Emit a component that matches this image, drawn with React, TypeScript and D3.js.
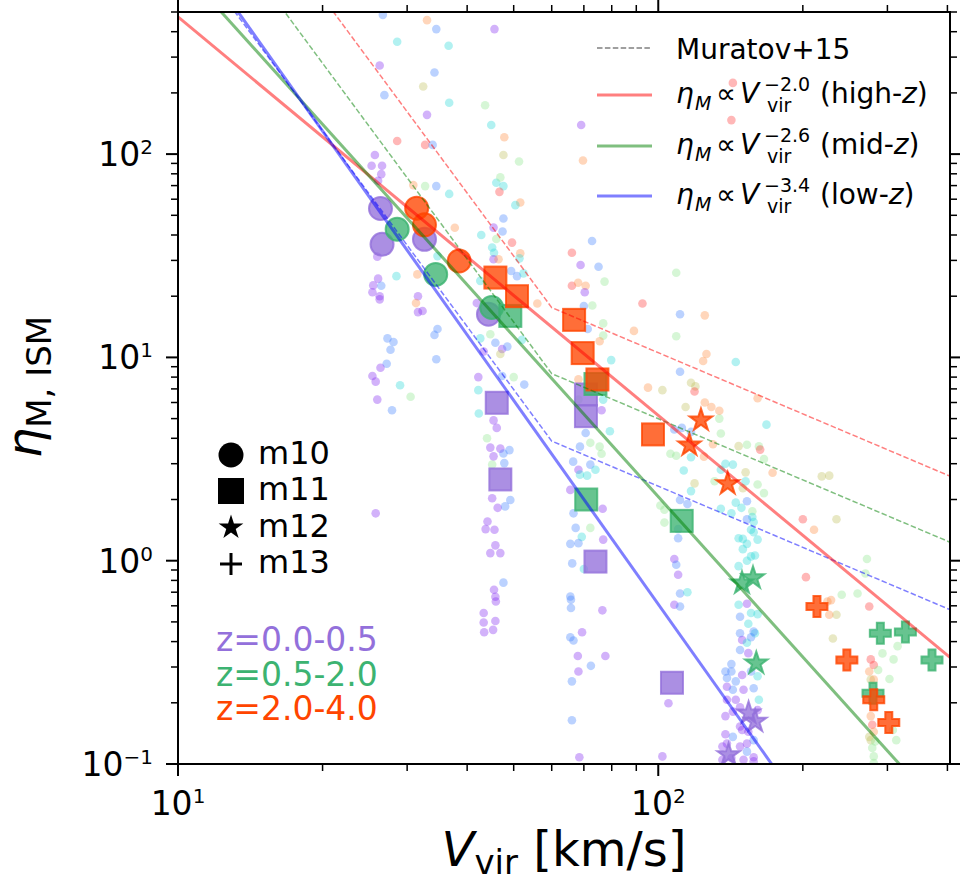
import React from 'react';
import * as d3 from 'd3';

const FONT = "'DejaVu Sans', sans-serif";

// ---- axis ranges and ticks ----
const X_MIN = 10, X_MAX = 405;
const Y_MIN = 0.1, Y_MAX = 500;
const xMajorTicks = [10, 100];
const xMajorExp = ['1', '2'];
const xMinorTicks = [20, 30, 40, 50, 60, 70, 80, 90, 200, 300, 400];
const yMajorTicks = [0.1, 1, 10, 100];
const yMajorExp = ['\u22121', '0', '1', '2'];
const yMinorTicks = [0.2, 0.3, 0.4, 0.5, 0.6, 0.7, 0.8, 0.9, 2, 3, 4, 5, 6, 7, 8, 9, 20, 30, 40, 50, 60, 70, 80, 90, 200, 300, 400, 500];

// ---- redshift bins ----
const zBinLabels = ['z=0.0-0.5', 'z=0.5-2.0', 'z=2.0-4.0'];
const zBinColors = ['#9370DB', '#3CB371', '#FF4500'];

// ---- power-law fits ----
const fitExpLabels = ['\u22122.0', '\u22122.6', '\u22123.4'];
const fitRegimes = ['high', 'mid', 'low'];
const fitSlopes = [-1.96, -2.62, -3.33];
const fitEtaAt10 = [473, 861, 1306];
const fitColors = ['#ff0000', '#008000', '#0000ff'];

// ---- Muratov+15 ----
const muratovZ = [3.0, 1.25, 0.25];
const muratovNorm = 2.9;
const muratovZExp = 1.3;
const muratovBreakV = 60;
const muratovSlopeLow = -3.2;
const muratovSlopeHigh = -1.0;

// ---- big markers ----
const m10V = [26.4, 26.6, 32.6, 44.3, 28.6, 34.4, 45.0, 31.4, 32.6, 38.5];
const m10Eta = [54.0, 36.0, 38.1, 16.3, 42.7, 25.6, 17.6, 54.2, 44.9, 29.8];
const m10Z = [0, 0, 0, 0, 1, 1, 1, 2, 2, 2];

const m11V = [70.7, 70.7, 46.1, 46.9, 74.0, 106.8, 49.2, 74.0, 70.8, 111.9, 45.8, 50.8, 66.8, 69.6, 74.7, 97.5];
const m11Eta = [6.57, 5.14, 5.98, 2.51, 0.99, 0.251, 16.0, 7.4, 2.0, 1.57, 24.7, 20.0, 15.3, 10.5, 7.79, 4.18];
const m11Z = [0, 0, 0, 0, 0, 0, 1, 1, 1, 1, 2, 2, 2, 2, 2, 2];

const m12V = [154.2, 159.2, 140.1, 157.5, 149.4, 160, 122.7, 116.1, 139.5];
const m12Eta = [0.178, 0.162, 0.111, 0.822, 0.776, 0.313, 4.91, 3.70, 2.39];
const m12Z = [0, 0, 0, 1, 1, 1, 2, 2, 2];

const m13V = [290, 327, 371.5, 280, 214, 247, 281, 302];
const m13Eta = [0.440, 0.446, 0.325, 0.223, 0.596, 0.325, 0.207, 0.160];
const m13Z = [1, 1, 1, 1, 2, 2, 2, 2];

const markerLegend = ['m10', 'm11', 'm12', 'm13'];

// ---- faint snapshot dots [Vvir, eta, colour code] ----
const dotColors: Record<string, string> = {
  p: '#822af2', b: '#4382ff', c: '#2ad9d9', g: '#8ee68e', y: '#c0c05c', o: '#ff8e43', r: '#ff3737',
};
const dots: [number, number, string][] = [
  [26.7, 484, 'b'], [28.6, 357, 'c'], [33.0, 456, 'o'], [34.5, 412, 'b'], [36.6, 341, 'c'], [45.6, 412, 'p'],
  [26.3, 273, 'p'], [34.2, 252, 'b'], [32.4, 215, 'y'], [26.9, 195, 'b'], [36.7, 179, 'c'], [43.6, 174, 'g'],
  [33.0, 156, 'p'], [44.9, 139, 'c'], [47.8, 121, 'o'], [69.1, 139, 'p'], [25.7, 99, 'p'], [28.6, 116, 'r'],
  [32.7, 111, 'r'], [33.9, 111, 'b'], [47.6, 99, 'y'], [51.3, 92, 'g'], [69.7, 93, 'o'], [25.3, 87.6, 'p'],
  [26.6, 87.6, 'p'], [26.5, 79.7, 'p'], [26.1, 73.9, 'p'], [30.9, 70.4, 'o'], [32.7, 69.6, 'g'], [34.5, 69.6, 'b'],
  [36.7, 63.7, 'c'], [46.0, 72.3, 'c'], [46.9, 76.8, 'g'], [47.6, 69.6, 'c'], [46.7, 65.2, 'r'], [51.6, 57.8, 'o'],
  [50.4, 56.1, 'c'], [47.6, 48.2, 'b'], [45.4, 43.5, 'p'], [47.4, 41.6, 'b'], [37.7, 43.4, 'o'], [42.8, 40, 'c'],
  [46.0, 38.2, 'g'], [45.1, 34.7, 'c'], [45.5, 32.7, 'c'], [49.6, 36.7, 'r'], [51.6, 32.5, 'o'], [51.4, 30.7, 'c'],
  [45.4, 30.4, 'p'], [46.5, 30.4, 'o'], [72.8, 37.4, 'b'], [66.1, 32.7, 'r'], [68.9, 28.5, 'p'], [75.1, 27.9, 'b'],
  [66.1, 22.5, 'r'], [68.1, 23.3, 'o'], [70.6, 22.5, 'o'], [77.3, 23.6, 'g'], [70.3, 20.9, 'p'], [28.5, 25.1, 'c'],
  [31.5, 25.6, 'o'], [34.7, 31.5, 'c'], [26.0, 31.3, 'p'], [26.1, 24.4, 'p'], [25.5, 22.6, 'p'], [26.5, 22.5, 'b'],
  [25.4, 20.9, 'p'], [26.3, 20.0, 'p'], [31.6, 20.0, 'p'], [42.6, 23.8, 'c'], [49.4, 26.6, 'b'], [50.8, 25.1, 'b'],
  [52.4, 25.9, 'c'],
  [143, 224, 'r'], [142, 147, 'r'], [109, 26.1, 'g'],
  [26.3, 19.3, 'p'], [31.3, 18.5, 'o'], [31.6, 16.7, 'p'], [32.3, 16.9, 'p'], [41.9, 18.5, 'p'], [34.7, 13.8, 'b'],
  [34.2, 12.9, 'b'], [34.5, 9.8, 'b'], [27.3, 12.4, 'b'], [28.1, 11.9, 'b'], [27.7, 10.9, 'b'], [27.2, 9.3, 'b'],
  [26.4, 8.9, 'p'], [25.4, 8.1, 'p'], [25.8, 7.6, 'p'], [29.0, 7.3, 'c'], [30.5, 6.4, 'g'], [26.0, 6.2, 'p'],
  [27.9, 5.5, 'b'], [25.8, 1.71, 'p'],
  [42.6, 12.4, 'c'], [44.7, 13.0, 'g'], [45.8, 11.8, 'b'], [47.3, 11.0, 'p'], [48.5, 11.3, 'b'], [43.3, 10.7, 'p'],
  [46.9, 10.4, 'y'], [52.0, 12.2, 'c'], [42.2, 8.0, 'p'], [42.2, 6.9, 'c'], [42.3, 5.3, 'c'], [47.3, 8.1, 'b'],
  [50.0, 8.0, 'g'], [52.6, 7.35, 'b'], [45.4, 4.9, 'p'], [46.1, 4.5, 'p'], [44.0, 4.0, 'g'], [44.7, 3.6, 'p'],
  [46.9, 3.56, 'p'], [49.0, 3.5, 'b'], [45.4, 3.26, 'p'], [47.6, 3.37, 'b'], [45.1, 2.97, 'g'], [47.8, 3.02, 'b'],
  [45.1, 2.03, 'p'], [49.2, 1.99, 'b'], [46.3, 1.82, 'p'], [48.0, 1.85, 'b'], [44.1, 1.56, 'p'], [43.7, 1.43, 'p'],
  [45.6, 1.42, 'p'], [45.8, 1.19, 'p'], [44.7, 1.09, 'p'], [46.9, 1.09, 'p'], [47.6, 0.78, 'b'], [45.5, 0.72, 'p'],
  [45.8, 0.665, 'p'],
  [70.0, 17.9, 'b'], [72.9, 18.0, 'g'], [71.3, 13.8, 'b'], [76.8, 14.7, 'g'], [76.8, 12.8, 'g'], [79.8, 9.7, 'c'],
  [75.5, 12.0, 'o'], [68.2, 7.8, 'o'], [68.2, 6.2, 'g'], [76.8, 6.2, 'c'], [76.2, 5.5, 'p'], [79.3, 4.33, 'c'],
  [70.6, 4.25, 'b'], [72.2, 3.8, 'g'], [68.7, 3.64, 'b'], [75.5, 3.64, 'g'], [76.2, 3.36, 'g'], [72.2, 2.97, 'b'],
  [74.0, 2.8, 'c'], [66.5, 3.07, 'b'], [68.2, 2.8, 'p'], [68.7, 2.65, 'c'], [71.1, 2.62, 'c'], [65.6, 2.23, 'p'],
  [66.6, 1.71, 'b'], [72.2, 1.45, 'g'], [67.3, 1.45, 'b'], [69.3, 1.31, 'c'], [68.2, 1.22, 'b'], [65.6, 1.21, 'b'],
  [66.2, 0.97, 'b'], [70.0, 0.91, 'c'], [76.6, 1.8, 'p'], [76.8, 1.27, 'p'], [65.6, 0.667, 'b'], [56.0, 18.4, 'o'],
  [89.0, 13.5, 'o'],
  [92.7, 18.4, 'r'], [111, 16.3, 'b'], [125, 16.1, 'o'], [109, 12.7, 'g'], [124, 9.6, 'o'], [126, 10.4, 'o'],
  [145, 9.5, 'c'], [111, 8.5, 'b'], [95.2, 7.1, 'o'], [102, 6.9, 'y'], [117, 7.5, 'y'], [119.5, 7.2, 'y'],
  [119, 6.8, 'r'], [114, 5.7, 'y'], [125, 6.0, 'o'], [129, 5.7, 'o'], [134, 5.46, 'o'], [161, 6.3, 'o'],
  [168, 4.67, 'c'], [134, 5.0, 'g'], [108, 4.42, 'b'], [112, 4.5, 'b'], [135, 4.22, 'g'], [130, 3.74, 'o'],
  [147, 3.66, 'y'], [153, 3.72, 'g'], [162, 3.65, 'g'], [163, 3.52, 'r'], [106, 3.36, 'g'], [109, 3.28, 'g'],
  [117, 3.23, 'c'], [124.5, 3.25, 'o'], [166, 3.16, 'g'], [138, 3.0, 'c'], [143, 2.97, 'c'], [113, 2.78, 'c'],
  [135, 2.8, 'c'], [152, 2.72, 'y'], [173, 2.71, 'o'], [131, 2.46, 'g'], [152, 2.46, 'c'], [150, 2.27, 'y'],
  [119, 2.4, 'y'], [161, 2.37, 'g'], [166, 2.15, 'g'], [117, 2.2, 'c'], [101, 1.87, 'g'], [103, 1.78, 'g'],
  [111, 1.99, 'b'], [115, 1.9, 'b'], [135, 1.8, 'c'], [145, 1.93, 'c'], [149, 1.82, 'c'], [153, 1.96, 'b'],
  [157, 1.75, 'g'], [142, 1.71, 'c'], [103, 1.54, 'g'], [157, 1.64, 'c'], [158, 1.55, 'c'], [153, 1.6, 'b'],
  [156, 1.42, 'c'], [158, 1.38, 'c'], [147, 1.29, 'c'], [150, 1.28, 'c'], [161, 1.27, 'c'], [153, 1.21, 'c'],
  [150, 1.14, 'c'], [156, 1.05, 'c'], [159, 1.06, 'c'], [153, 1.0, 'c'], [147, 0.94, 'c'], [110, 1.29, 'b'],
  [110, 1.43, 'b'], [108, 1.02, 'p'], [109, 0.955, 'b'], [110, 0.853, 'p'], [111, 0.69, 'b'], [115, 0.70, 'c'],
  [200, 1.6, 'r'], [211, 1.42, 'o'], [219, 2.6, 'y'], [227, 2.62, 'y'], [235, 1.6, 'y'], [272, 1.02, 'g'],
  [270, 0.865, 'g'], [203, 0.83, 'r'], [241, 0.68, 'g'], [260, 0.69, 'g'], [229, 0.64, 'o'], [117, 4.3, 'b'],
  [108, 0.607, 'p'], [111, 0.595, 'b'], [105, 0.199, 'p'], [102, 0.109, 'p'],
  [147, 0.607, 'c'], [153, 0.614, 'p'], [156, 0.553, 'c'], [161, 0.546, 'c'], [148, 0.53, 'b'], [154, 0.49, 'c'],
  [159, 0.44, 'c'], [158, 0.448, 'b'], [148, 0.44, 'b'], [149.5, 0.407, 'p'], [153, 0.395, 'c'], [156, 0.42, 'b'],
  [148, 0.364, 'b'], [154, 0.351, 'p'], [142, 0.31, 'b'], [138, 0.285, 'b'], [142, 0.285, 'b'], [139, 0.265, 'b'],
  [145, 0.255, 'b'], [149.5, 0.274, 'p'], [156, 0.285, 'b'], [161, 0.27, 'c'], [139, 0.24, 'p'], [143, 0.232, 'b'],
  [150.5, 0.232, 'p'], [158, 0.236, 'b'], [162, 0.207, 'c'], [139, 0.207, 'p'], [145, 0.207, 'p'], [138, 0.172, 'p'],
  [143, 0.181, 'p'], [148, 0.19, 'p'], [161, 0.184, 'p'], [149.5, 0.147, 'p'], [148, 0.153, 'p'], [138, 0.14, 'p'],
  [143, 0.136, 'b'], [154, 0.144, 'p'], [158, 0.131, 'b'], [136, 0.122, 'p'], [139, 0.126, 'p'], [148, 0.122, 'p'],
  [153, 0.126, 'p'], [153, 0.115, 'b'], [158, 0.108, 'p'], [136, 0.105, 'p'], [142, 0.107, 'p'], [150.5, 0.105, 'p'],
  [158, 0.103, 'p'],
  [225, 0.63, 'o'], [235, 0.542, 'y'], [227, 0.542, 'o'], [231, 0.414, 'y'], [275, 0.595, 'r'], [277, 0.327, 'r'],
  [281, 0.307, 'r'], [275, 0.285, 'o'], [277, 0.26, 'y'], [281, 0.26, 'o'], [287, 0.29, 'g'], [293, 0.35, 'g'],
  [303, 0.262, 'g'], [309, 0.327, 'g'], [315, 0.38, 'g'], [277, 0.172, 'o'], [279, 0.156, 'r'], [281, 0.144, 'o'],
  [275, 0.136, 'y'], [277, 0.131, 'y'], [283, 0.129, 'g'], [308, 0.147, 'g'], [313, 0.131, 'g'], [279, 0.12, 'g'],
  [281, 0.109, 'g'], [281, 0.101, 'g'],
  [43.3, 0.553, 'p'], [43.3, 0.497, 'p'], [43.4, 0.445, 'p'], [45.3, 0.457, 'p'], [45.8, 0.505, 'p'], [45.9, 0.63, 'p'],
  [65.8, 0.642, 'b'], [65.8, 0.585, 'b'], [76.5, 0.57, 'p'], [69.4, 0.445, 'p'], [65.6, 0.42, 'b'], [66.6, 0.405, 'b'],
  [68.0, 0.34, 'p'], [77.6, 0.34, 'p'], [68.2, 0.285, 'p'], [72.4, 0.304, 'b'], [66.1, 0.255, 'b'], [66.1, 0.164, 'b'],
  [68.5, 0.108, 'p'],
];

type Shape = 'circle' | 'square' | 'star' | 'plus';

function Marker({ shape, cx, cy, color, legend }: { shape: Shape; cx: number; cy: number; color: string; legend?: boolean }) {
  const style = legend
    ? { fill: color, stroke: 'none' }
    : { fill: color, fillOpacity: 0.78, stroke: color, strokeOpacity: 0.8, strokeWidth: 2 };
  if (shape === 'circle') return <circle cx={cx} cy={cy} r={legend ? 12.5 : 11.5} {...style} />;
  if (shape === 'square') {
    const s = legend ? 26 : 22;
    return <rect x={cx - s / 2} y={cy - s / 2} width={s} height={s} {...style} />;
  }
  if (shape === 'star') {
    const R = legend ? 13 : 11.8;
    const d = d3.symbol().type(d3.symbolStar).size((R * R) / 0.8908130915)();
    return <path transform={`translate(${cx},${cy})`} d={d || ''} {...style} />;
  }
  if (legend) {
    return (
      <g stroke={color} strokeWidth={3}>
        <line x1={cx - 11} x2={cx + 11} y1={cy} y2={cy} />
        <line x1={cx} x2={cx} y1={cy - 11} y2={cy + 11} />
      </g>
    );
  }
  const d = d3.symbol().type(d3.symbolCross).size(245)();
  return <path transform={`translate(${cx},${cy})`} d={d || ''} {...style} />;
}

export default function App() {
  const left = 178, right = 950, top = 12, bottom = 764;
  const x = d3.scaleLog().domain([X_MIN, X_MAX]).range([left, right]);
  const y = d3.scaleLog().domain([Y_MIN, Y_MAX]).range([bottom, top]);
  const line = d3.line<[number, number]>().x((d) => x(d[0])).y((d) => y(d[1]));

  const fitPaths = fitSlopes.map((s, i) =>
    line([X_MIN, X_MAX].map((v) => [v, fitEtaAt10[i] * Math.pow(v / 10, s)] as [number, number]))
  );
  const muratovPaths = muratovZ.map((z) => {
    const n = muratovNorm * Math.pow(1 + z, muratovZExp);
    const pts: [number, number][] = [
      [X_MIN, n * Math.pow(X_MIN / muratovBreakV, muratovSlopeLow)],
      [muratovBreakV, n],
      [X_MAX, n * Math.pow(X_MAX / muratovBreakV, muratovSlopeHigh)],
    ];
    return line(pts);
  });

  const groups: { shape: Shape; V: number[]; E: number[]; Z: number[] }[] = [
    { shape: 'circle', V: m10V, E: m10Eta, Z: m10Z },
    { shape: 'square', V: m11V, E: m11Eta, Z: m11Z },
    { shape: 'star', V: m12V, E: m12Eta, Z: m12Z },
    { shape: 'plus', V: m13V, E: m13Eta, Z: m13Z },
  ];
  const legendShapes: Shape[] = ['circle', 'square', 'star', 'plus'];
  const legendShapeY = [455, 491, 527.5, 564];

  const majorLen = 12, minorLen = 7;
  const fitRowBase = [103, 154, 204];

  return (
    <svg width={960} height={889} style={{ position: 'absolute', left: 0, top: 0, display: 'block', background: '#fff' }} fontFamily={FONT}>
      <defs>
        <clipPath id="plotclip">
          <rect x={left} y={top} width={right - left} height={bottom - top} />
        </clipPath>
      </defs>
      <rect x={0} y={0} width={960} height={889} fill="#fff" />

      <g clipPath="url(#plotclip)">
        {dots.map((d, i) => (
          <circle key={i} cx={x(d[0])} cy={y(d[1])} r={4.3} fill={dotColors[d[2]]} fillOpacity={0.36} />
        ))}
        {groups.map((g) =>
          [0, 1, 2].map((zb) =>
            g.V.map((v, i) =>
              g.Z[i] === zb ? (
                <Marker key={`${g.shape}-${i}`} shape={g.shape} cx={x(v)} cy={y(g.E[i])} color={zBinColors[zb]} />
              ) : null
            )
          )
        )}
        {muratovPaths.map((p, i) => (
          <path key={`m${i}`} d={p || ''} fill="none" stroke={fitColors[i]} strokeOpacity={0.5} strokeWidth={1.5} strokeDasharray="5.5,2.4" />
        ))}
        {fitPaths.map((p, i) => (
          <path key={`f${i}`} d={p || ''} fill="none" stroke={fitColors[i]} strokeOpacity={0.5} strokeWidth={3} />
        ))}
      </g>

      {/* spines */}
      <rect x={left} y={top} width={right - left} height={bottom - top} fill="none" stroke="#000" strokeWidth={2} />

      {/* ticks */}
      <g stroke="#000">
        {xMajorTicks.map((v) => (
          <g key={`xM${v}`} strokeWidth={2}>
            <line x1={x(v)} x2={x(v)} y1={bottom} y2={bottom + majorLen} />
            <line x1={x(v)} x2={x(v)} y1={top} y2={top - majorLen} />
          </g>
        ))}
        {xMinorTicks.map((v) => (
          <g key={`xm${v}`} strokeWidth={1.5}>
            <line x1={x(v)} x2={x(v)} y1={bottom} y2={bottom + minorLen} />
            <line x1={x(v)} x2={x(v)} y1={top} y2={top - minorLen} />
          </g>
        ))}
        {yMajorTicks.map((v) => (
          <g key={`yM${v}`} strokeWidth={2}>
            <line x1={left} x2={left - majorLen} y1={y(v)} y2={y(v)} />
            <line x1={right} x2={right + majorLen} y1={y(v)} y2={y(v)} />
          </g>
        ))}
        {yMinorTicks.map((v) => (
          <g key={`ym${v}`} strokeWidth={1.5}>
            <line x1={left} x2={left - minorLen} y1={y(v)} y2={y(v)} />
            <line x1={right} x2={right + minorLen} y1={y(v)} y2={y(v)} />
          </g>
        ))}
      </g>

      {/* tick labels */}
      {xMajorTicks.map((v, i) => (
        <text key={`xl${v}`} x={x(v)} y={815} textAnchor="middle" fontSize={33} fill="#000">
          10<tspan fontSize={20} dy={-12}>{xMajorExp[i]}</tspan>
        </text>
      ))}
      {yMajorTicks.map((v, i) => (
        <text key={`yl${v}`} x={153} y={y(v) + 12} textAnchor="end" fontSize={33} fill="#000">
          10<tspan fontSize={20} dy={-12}>{yMajorExp[i]}</tspan>
        </text>
      ))}

      {/* axis labels */}
      <text x={564} y={866} textAnchor="middle" fontSize={48} fill="#000">
        <tspan fontStyle="italic">V</tspan>
        <tspan fontSize={34} dy={8}>vir</tspan>
        <tspan dy={-8}>{' [km/s]'}</tspan>
      </text>
      <text transform="translate(41,387) rotate(-90)" textAnchor="middle" fontSize={48} fill="#000">
        <tspan fontStyle="italic">η</tspan>
        <tspan fontSize={34} dy={10}>M, ISM</tspan>
      </text>

      {/* legend: lines */}
      <line x1={597} x2={652} y1={48} y2={48} stroke="#000" strokeOpacity={0.5} strokeWidth={1.5} strokeDasharray="5.5,2.4" />
      <text x={676} y={59} fontSize={28} fill="#000">Muratov+15</text>
      {fitRowBase.map((b, i) => (
        <g key={`lg${i}`} fill="#000">
          <line x1={597} x2={652} y1={b - 8} y2={b - 8} stroke={fitColors[i]} strokeOpacity={0.5} strokeWidth={3} />
          <text x={676} y={b} fontSize={28} fontStyle="italic">η</text>
          <text x={695} y={b + 7} fontSize={19} fontStyle="italic">M</text>
          <text x={716} y={b} fontSize={28}>∝</text>
          <text x={740} y={b} fontSize={28} fontStyle="italic">V</text>
          <text x={764} y={b - 12} fontSize={19}>{fitExpLabels[i]}</text>
          <text x={767} y={b + 9} fontSize={19}>vir</text>
          <text x={820} y={b} fontSize={28}>
            {`(${fitRegimes[i]}-`}<tspan fontStyle="italic">z</tspan>)
          </text>
        </g>
      ))}

      {/* legend: marker shapes */}
      {legendShapes.map((s, i) => (
        <g key={`ms${i}`}>
          <Marker shape={s} cx={231} cy={legendShapeY[i]} color="#000" legend />
          <text x={258} y={legendShapeY[i] + 9} fontSize={32} fill="#000">{markerLegend[i]}</text>
        </g>
      ))}

      {/* legend: redshift bins */}
      {zBinLabels.map((t, i) => (
        <text key={`zl${i}`} x={216} y={651 + i * 34.5} fontSize={33} fill={zBinColors[i]}>{t}</text>
      ))}
    </svg>
  );
}
